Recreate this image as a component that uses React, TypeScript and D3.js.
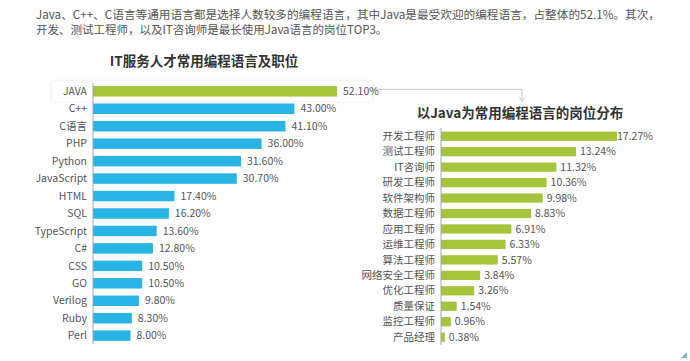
import React from 'react';
import * as d3 from 'd3';

const langNames = ['JAVA', 'C++', 'C语言', 'PHP', 'Python', 'JavaScript', 'HTML', 'SQL', 'TypeScript', 'C#', 'CSS', 'GO', 'Verilog', 'Ruby', 'Perl'];
const langValues = [52.1, 43.0, 41.1, 36.0, 31.6, 30.7, 17.4, 16.2, 13.6, 12.8, 10.5, 10.5, 9.8, 8.3, 8.0];

const jobNames = ['开发工程师', '测试工程师', 'IT咨询师', '研发工程师', '软件架构师', '数据工程师', '应用工程师', '运维工程师', '算法工程师', '网络安全工程师', '优化工程师', '质量保证', '监控工程师', '产品经理'];
const jobValues = [17.27, 13.24, 11.32, 10.36, 9.98, 8.83, 6.91, 6.33, 5.57, 3.84, 3.26, 1.54, 0.96, 0.38];

const introLines = [
  'Java、C++、C语言等通用语言都是选择人数较多的编程语言，其中Java是最受欢迎的编程语言，占整体的52.1%。其次，',
  '开发、测试工程师，以及IT咨询师是最长使用Java语言的岗位TOP3。',
];
const leftTitle = 'IT服务人才常用编程语言及职位';
const rightTitle = '以Java为常用编程语言的岗位分布';

const BLUE = '#28b5e6';
const GREEN = '#a6c43a';
const TEXT = '#555';
const FONT = '"Noto Sans CJK SC", "Noto Sans", sans-serif';

const width = 690;
const height = 361;

export default function App() {
  // left chart scales
  const lx = d3.scaleLinear().domain([0, 52.1]).range([93, 337]);
  const ly = d3
    .scaleBand<string>()
    .domain(langNames)
    .range([82.6, 344.4])
    .paddingInner(0.4)
    .paddingOuter(0.2);

  // right chart scales
  const rx = d3.scaleLinear().domain([0, 17.27]).range([441, 617]);
  const ry = d3
    .scaleBand<string>()
    .domain(jobNames)
    .range([128.5, 344.9])
    .paddingInner(0.4)
    .paddingOuter(0.2);

  const javaY = (ly('JAVA') ?? 0) + ly.bandwidth() / 2;

  return (
    <svg
      width={width}
      height={height}
      style={{ position: 'absolute', left: 0, top: 0, background: '#fff' }}
      fontFamily={FONT}
    >
      <defs>
        <filter id='soft' x='-10%' y='-50%' width='120%' height='200%'>
          <feDropShadow dx='0' dy='0' stdDeviation='1.5' floodColor='#000' floodOpacity='0.12' />
        </filter>
      </defs>

      {/* intro paragraph */}
      {introLines.map((t, i) => (
        <text
          key={i}
          x={36}
          y={19 + i * 15}
          fontSize={11.5}
          fill={TEXT}
          textLength={i === 0 ? 624 : undefined}
          lengthAdjust='spacingAndGlyphs'
        >
          {t}
        </text>
      ))}

      {/* titles */}
      <text x={204} y={66} fontSize={13.5} fontWeight={600} fill='#333' textAnchor='middle'>
        {leftTitle}
      </text>
      <text x={520} y={118} fontSize={13.5} fontWeight={600} fill='#333' textAnchor='middle'>
        {rightTitle}
      </text>

      {/* highlight box around JAVA row */}
      <rect x={52} y={javaY - 10} width={320} height={20} fill='#fff' filter='url(#soft)' />

      {/* connector to right chart */}
      <path
        d={`M372,${javaY - 2} H522 V${javaY + 8}`}
        fill='none'
        stroke='#c8c8c8'
        strokeWidth={1}
      />
      <path d={`M519.5,${javaY + 6} L522,${javaY + 10} L524.5,${javaY + 6}`} fill='none' stroke='#c8c8c8' strokeWidth={1} />

      {/* left bars */}
      <g>
        {langNames.map((n, i) => {
          const y = ly(n) ?? 0;
          return (
            <g key={n}>
              <rect
                x={lx(0)}
                y={y}
                width={lx(langValues[i]) - lx(0)}
                height={ly.bandwidth()}
                fill={i === 0 ? GREEN : BLUE}
              />
              <text x={87} y={y + ly.bandwidth() / 2} dy='0.35em' fontSize={10.5} fill={TEXT} textAnchor='end'>
                {n}
              </text>
              <text x={lx(langValues[i]) + 6} y={y + ly.bandwidth() / 2} dy='0.35em' fontSize={10.5} fill={TEXT}>
                {langValues[i].toFixed(2)}%
              </text>
            </g>
          );
        })}
        <line x1={lx(0)} x2={lx(0)} y1={83} y2={344} stroke='#9ab' strokeWidth={1} />
      </g>

      {/* right bars */}
      <g>
        {jobNames.map((n, i) => {
          const y = ry(n) ?? 0;
          return (
            <g key={n}>
              <rect
                x={rx(0)}
                y={y}
                width={rx(jobValues[i]) - rx(0)}
                height={ry.bandwidth()}
                fill={GREEN}
              />
              <text x={435} y={y + ry.bandwidth() / 2} dy='0.35em' fontSize={10.5} fill={TEXT} textAnchor='end'>
                {n}
              </text>
              <text
                x={rx(jobValues[i]) + (i === 0 ? 0 : 4)}
                y={y + ry.bandwidth() / 2}
                dy='0.35em'
                fontSize={10.5}
                fill={TEXT}
              >
                {jobValues[i].toFixed(2)}%
              </text>
            </g>
          );
        })}
        <line x1={rx(0)} x2={rx(0)} y1={128} y2={345} stroke='#9ab' strokeWidth={1} />
      </g>

      {/* small corner mark */}
      <path d='M681,358 L687,352 L687,358 Z' fill='#7fb6c4' />
    </svg>
  );
}
